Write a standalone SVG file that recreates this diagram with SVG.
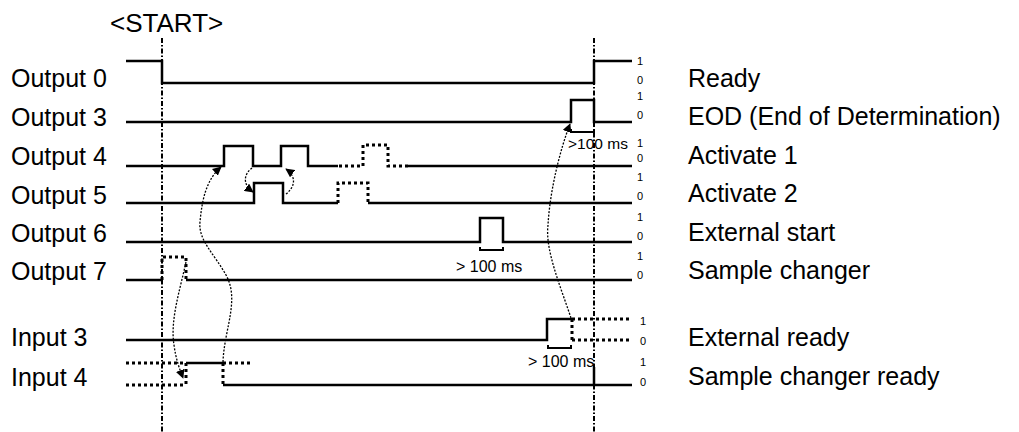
<svg xmlns="http://www.w3.org/2000/svg" width="1019" height="432" viewBox="0 0 1019 432">
<style>
text{font-family:"Liberation Sans",Arial,sans-serif;fill:#000}
.lbl{font-size:25px}
.st{font-size:26px}
.lv{font-size:11px}
.ms{font-size:16px}
.w{fill:none;stroke:#000;stroke-width:2.5}
.d{fill:none;stroke:#000;stroke-width:3;stroke-dasharray:3,3}
.v{fill:none;stroke:#000;stroke-width:2;stroke-dasharray:5,2,1.5,2}
.br{fill:none;stroke:#000;stroke-width:2}
.a{fill:none;stroke:#000;stroke-width:1.3;stroke-dasharray:2,1.5}
</style>
<defs>
<marker id="ah" viewBox="0 0 10 10" refX="9" refY="5" markerWidth="9" markerHeight="9" markerUnits="userSpaceOnUse" orient="auto">
<path d="M0,0L10,5L0,10z" fill="#000"/>
</marker>
</defs>
<text class="st" x="110" y="32">&lt;START&gt;</text>
<g id="markers">
<line class="v" x1="162" y1="38" x2="162" y2="432"/>
<line class="v" x1="594" y1="38" x2="594" y2="432"/>
</g>
<g id="out0">
<text class="lbl" x="11" y="87">Output 0</text>
<path class="w" d="M126,61H162V83H594V61H632"/>
<text class="lv" x="637" y="65">1</text><text class="lv" x="637" y="84">0</text>
<text class="lbl" x="688" y="87">Ready</text>
</g>
<g id="out3">
<text class="lbl" x="11" y="126">Output 3</text>
<path class="w" d="M126,122H571V100H594V122H632"/>
<path class="br" d="M571,129V132H594V129"/>
<text x="568" y="149" style="font-size:15.5px">&gt;100 ms</text>
<text class="lv" x="637" y="100">1</text><text class="lv" x="637" y="119">0</text>
<text class="lbl" x="688" y="125">EOD (End of Determination)</text>
</g>
<g id="out4">
<text class="lbl" x="11" y="165">Output 4</text>
<path class="w" d="M126,166H224V146H253V166H281V146H308V166H338"/>
<path class="d" d="M339,166H363V145H388V166H408"/>
<path class="w" d="M408,166H632"/>
<text class="lv" x="637" y="147">1</text><text class="lv" x="637" y="162">0</text>
<text class="lbl" x="688" y="164">Activate 1</text>
</g>
<g id="out5">
<text class="lbl" x="11" y="204">Output 5</text>
<path class="w" d="M126,203H254V183H283V203H338"/>
<path class="d" d="M338,203V183H368V203"/>
<path class="w" d="M368,203H632"/>
<text class="lv" x="637" y="181">1</text><text class="lv" x="637" y="200">0</text>
<text class="lbl" x="688" y="202">Activate 2</text>
</g>
<g id="out6">
<text class="lbl" x="11" y="242">Output 6</text>
<path class="w" d="M126,242H480V218H503V242H632"/>
<path class="br" d="M480,247V250H503V247"/>
<text class="ms" x="456" y="272">&gt; 100 ms</text>
<text class="lv" x="637" y="221">1</text><text class="lv" x="637" y="240">0</text>
<text class="lbl" x="688" y="241">External start</text>
</g>
<g id="out7">
<text class="lbl" x="11" y="280">Output 7</text>
<path class="w" d="M126,280H162"/>
<path class="d" d="M162,280V257H186V280"/>
<path class="w" d="M186,280H632"/>
<text class="lv" x="637" y="260">1</text><text class="lv" x="637" y="279">0</text>
<text class="lbl" x="688" y="279">Sample changer</text>
</g>
<g id="in3">
<text class="lbl" x="11" y="346">Input 3</text>
<path class="w" d="M126,340H547V319H572"/>
<path class="d" d="M572,319V340M572,319H632M572,340H632"/>
<path class="br" d="M548,345V348H571V345"/>
<text class="ms" x="528" y="367">&gt; 100 ms</text>
<text class="lv" x="640" y="325">1</text><text class="lv" x="640" y="345">0</text>
<text class="lbl" x="688" y="346">External ready</text>
</g>
<g id="in4">
<text class="lbl" x="11" y="386">Input 4</text>
<path class="d" d="M126,363H186M126,385H186M186,363V385"/>
<path class="w" d="M186,363H223"/>
<path class="d" d="M223,363H253M223,363V385"/>
<path class="w" d="M223,385H632M594,367V385"/>
<text class="lv" x="640" y="366">1</text><text class="lv" x="640" y="386">0</text>
<text class="lbl" x="688" y="385">Sample changer ready</text>
</g>
<g id="connectors">
<path class="a" d="M186,262C180,290 170,320 174,345C176,360 180,370 183,378" marker-end="url(#ah)"/>
<path class="a" d="M223,362C224,330 240,300 226,275C215,255 198,240 200,222C202,200 206,180 221,167" marker-end="url(#ah)"/>
<path class="a" d="M252,168C244,174 242,184 253,192" marker-end="url(#ah)"/>
<path class="a" d="M286,194C296,186 296,176 286,169" marker-end="url(#ah)"/>
<path class="a" d="M571,318C560,285 545,250 548,225C550,190 560,150 570,124" marker-end="url(#ah)"/>
</g>
</svg>
